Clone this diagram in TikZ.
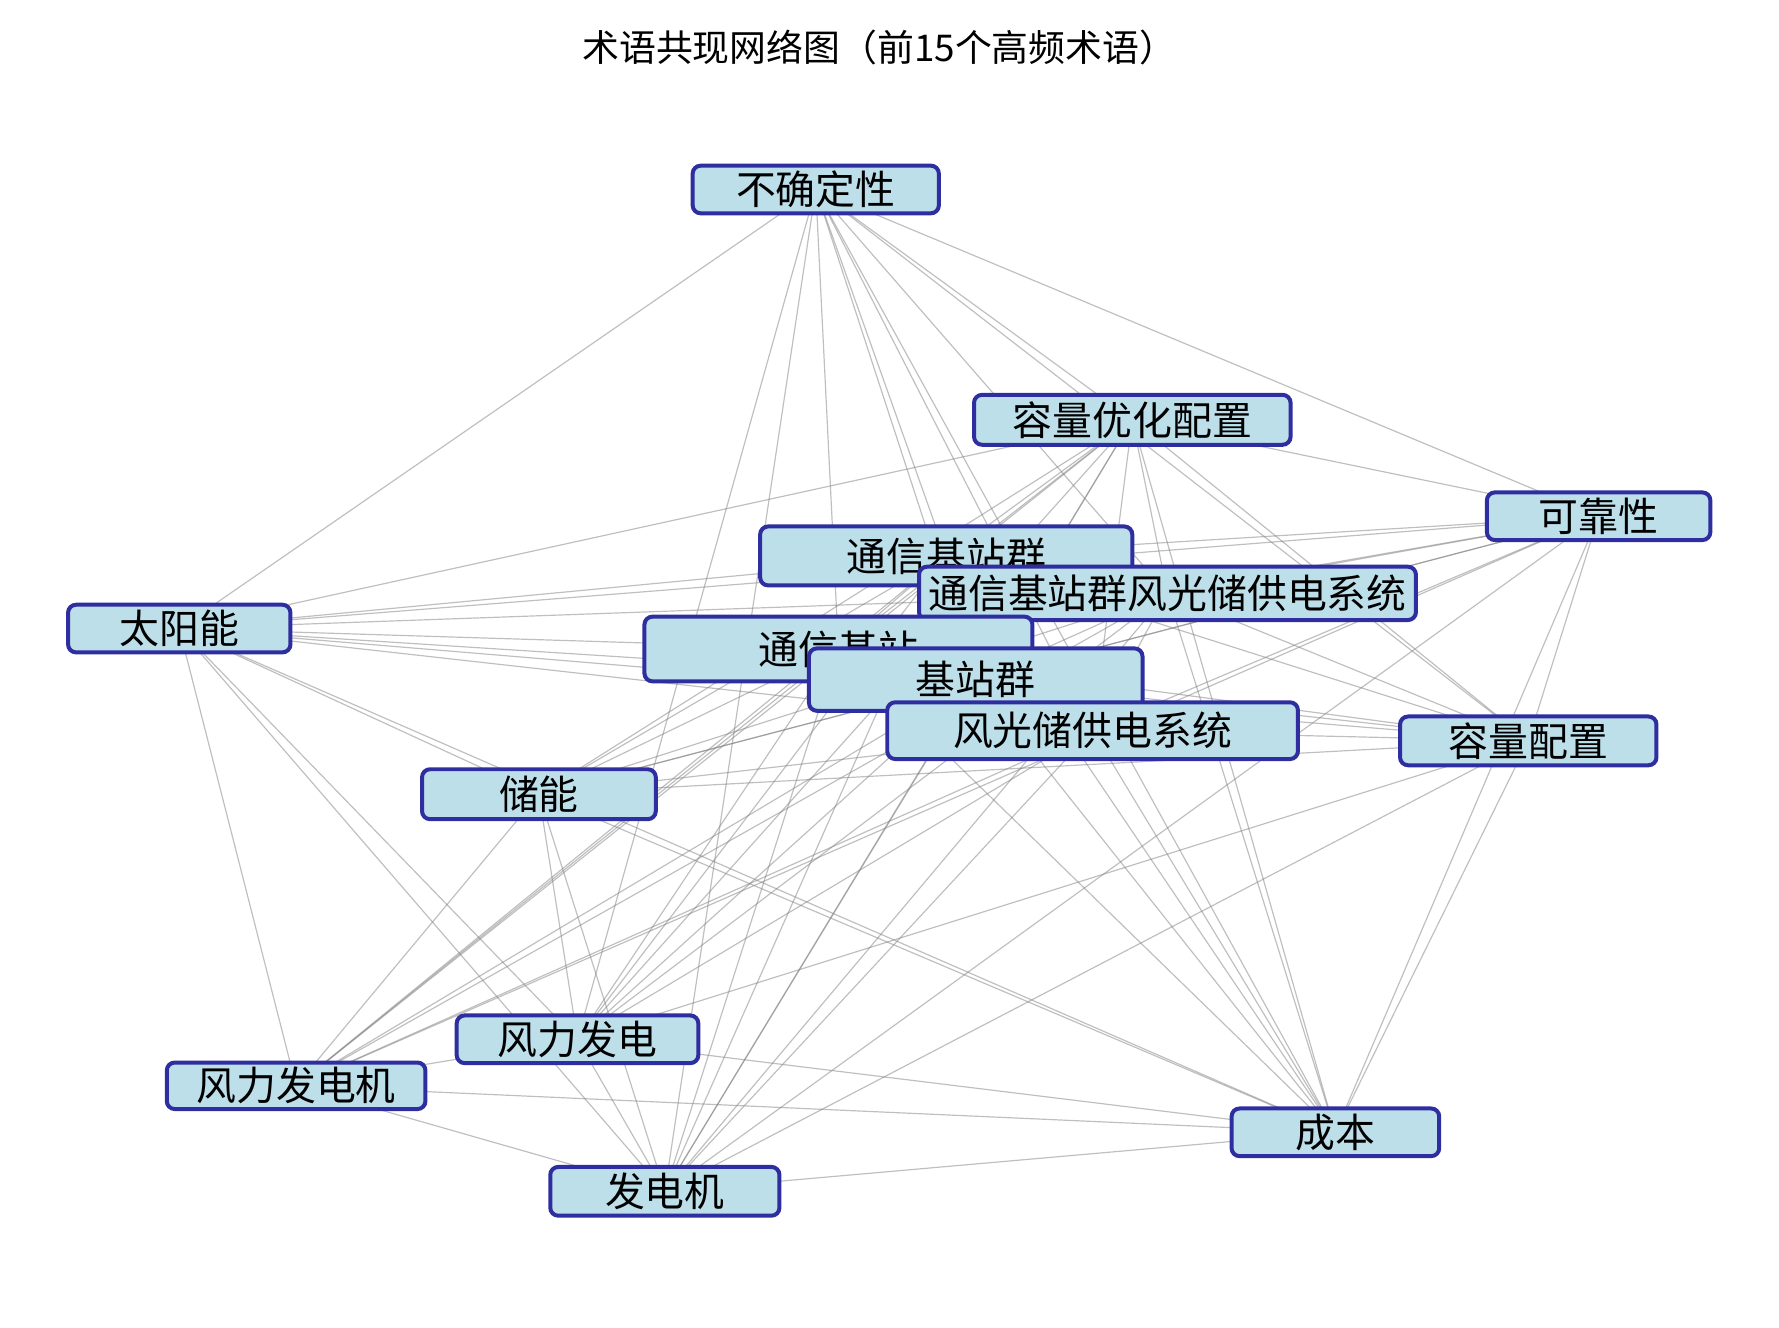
\documentclass[tikz,border=0pt]{standalone}
\usepackage{fontspec}
\setmainfont{Noto Sans CJK SC}
\usetikzlibrary{backgrounds}
\definecolor{termfill}{HTML}{BCDFEA}
\definecolor{termdraw}{HTML}{2E2EA0}
\begin{document}
\begin{tikzpicture}[x=0.02cm,y=-0.02cm,
		term/.style={
			draw=termdraw,
			fill=termfill,
			line width=2pt,
			rounded corners=4pt,
			inner sep=0pt,
			font=\fontsize{20}{20}\selectfont
		},
		link/.style={gray,opacity=0.5,line width=0.6pt}]
		\useasboundingbox (0,0) rectangle (1568,1170);
		\node[font=\fontsize{18.5}{18.5}\selectfont] (title) at (775,42) {术语共现网络图（前15个高频术语）};
		
		\foreach \n/\x/\y/\w/\h/\t in {
			a/719/167/217/42/不确定性,
			b/998/370/279/44/容量优化配置,
			c/1409/455/197/42/可靠性,
			d/834/490/328/52/通信基站群,
			e/1029/523/438/47/通信基站群风光储供电系统,
			f/158/554/196/42/太阳能,
			g/739/572/342/57/通信基站,
			h/860/599/294/55/基站群,
			i/963/644/362/50/风光储供电系统,
			j/1347/653/226/43/容量配置,
			k/475/700/206/44/储能,
			l/509/916/213/42/风力发电,
			m/261/957/228/41/风力发电机,
			n/1177/998/183/42/成本,
			o/586/1050/202/43/发电机}
		\node[term, minimum width=\w*0.02cm, minimum height=\h*0.02cm] (\n) at (\x,\y) {\t};
		
		% co-occurrence links
		\begin{scope}[on background layer]
			\foreach \p/\q in {a/b,a/c,a/d,a/e,a/f,a/g,a/h,a/i,a/j,a/l,a/n,a/o,
				b/c,b/d,b/e,b/f,b/g,b/h,b/i,b/j,b/k,b/l,b/m,b/n,b/o,
				c/d,c/e,c/f,c/g,c/h,c/i,c/j,c/k,c/m,c/n,c/o,
				d/e,d/f,d/g,d/h,d/i,d/j,d/k,d/l,d/m,d/n,d/o,
				e/f,e/g,e/h,e/i,e/j,e/k,e/l,e/m,e/n,e/o,
				f/g,f/h,f/i,f/j,f/k,f/l,f/m,f/n,f/o,
				g/h,g/i,g/j,g/k,g/l,g/m,g/n,g/o,
				h/i,h/j,h/k,h/l,h/m,h/n,h/o,
				i/j,i/k,i/l,i/m,i/n,i/o,
				j/k,j/l,j/n,j/o,
				k/l,k/m,k/n,k/o,
				l/m,l/n,l/o,m/n,m/o,n/o}
			\draw[link] (\p.center) -- (\q.center);
		\end{scope}
	\end{tikzpicture}
\end{document}
